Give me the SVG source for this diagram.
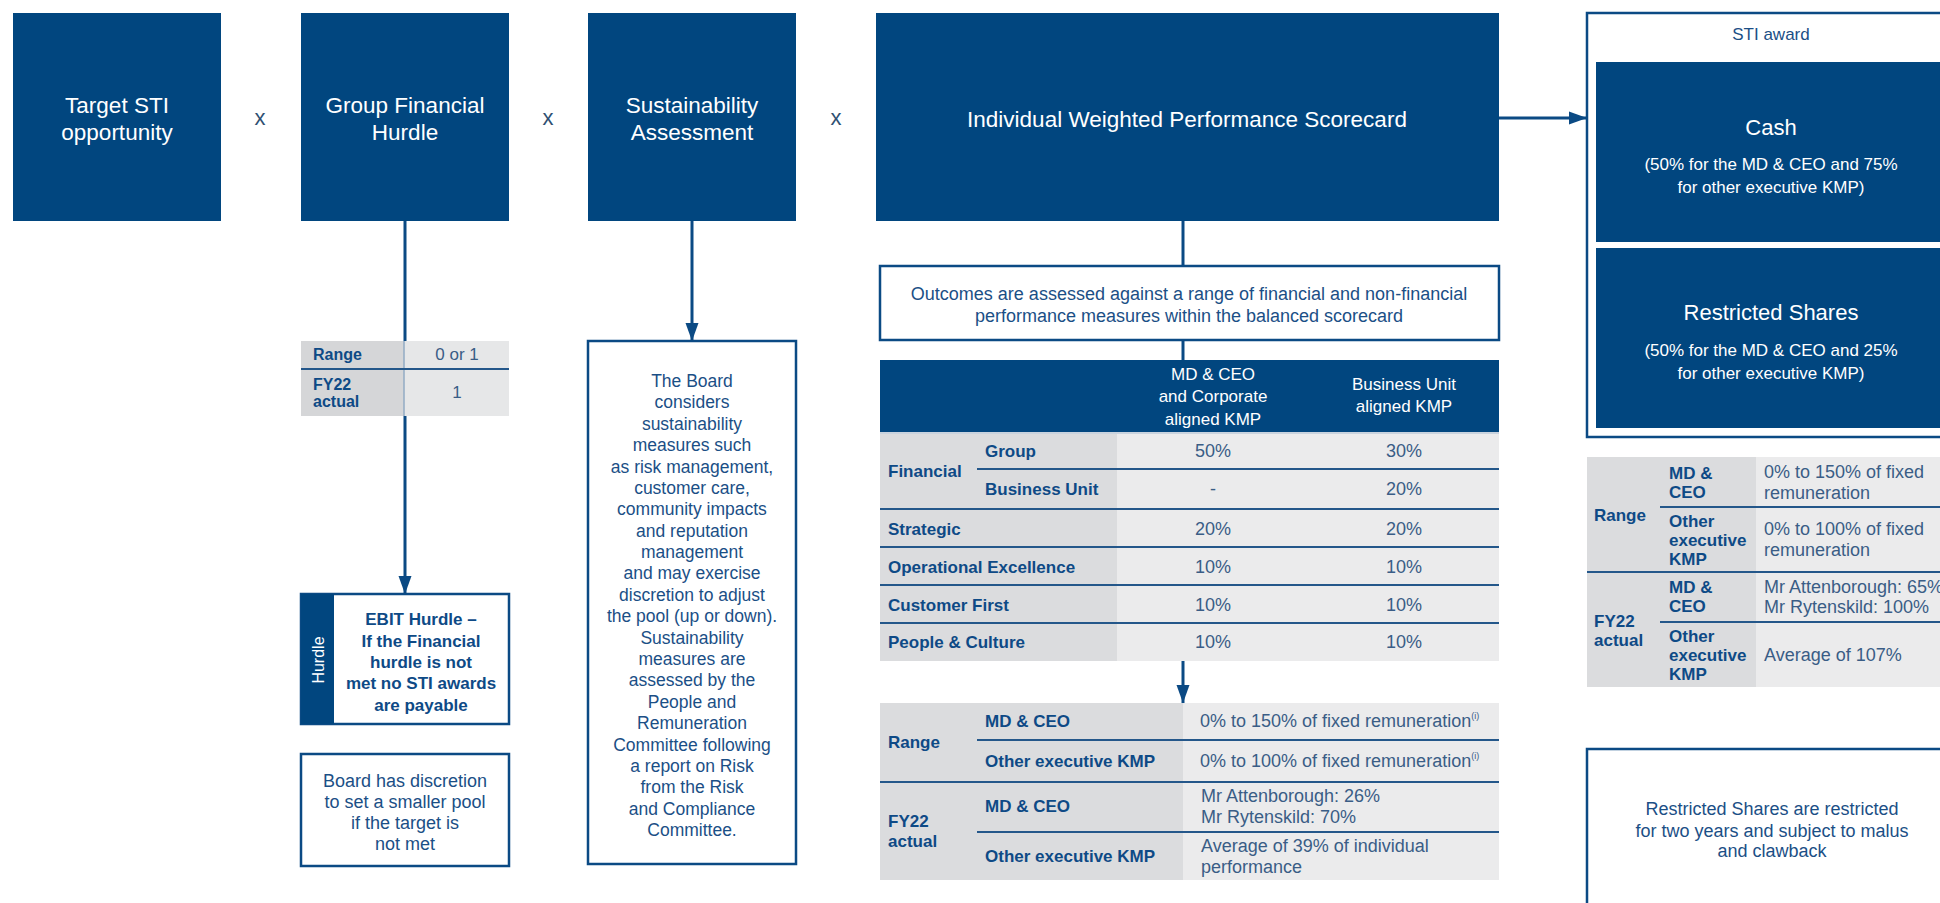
<svg xmlns="http://www.w3.org/2000/svg" width="1940" height="903" viewBox="0 0 1940 903">
  <style>
    text { font-family: "Liberation Sans", Arial, sans-serif; }
    .navy { fill: #01467f; }
    .title { fill: #ffffff; font-size: 22.5px; text-anchor: middle; }
    .sub { fill: #ffffff; font-size: 17px; text-anchor: middle; }
    .times { fill: #2f4f72; font-size: 22px; text-anchor: middle; }
    .outline { fill: #ffffff; stroke: #0b4a84; stroke-width: 2.5; }
    .body { fill: #1b4f86; font-size: 18px; text-anchor: middle; }
    .note { fill: #1b4f86; font-size: 17.5px; text-anchor: middle; }
    .strong { fill: #0e4a86; font-size: 17px; font-weight: bold; text-anchor: middle; }
    .lbl { fill: #0e4a86; font-size: 17px; font-weight: bold; }
    .lbl-s { fill: #0e4a86; font-size: 16px; font-weight: bold; }
    .val { fill: #3a5d86; font-size: 18px; }
    .valc { fill: #3a5d86; font-size: 18px; text-anchor: middle; }
    .valc-s { fill: #3a5d86; font-size: 17px; text-anchor: middle; }
    .hdr { fill: #ffffff; font-size: 17px; text-anchor: middle; }
    .cellA { fill: #dbdcde; }
    .cellB { fill: #ebebec; }
    .rule { stroke: #24578a; stroke-width: 2; }
    .conn { stroke: #0b4a84; stroke-width: 3; fill: none; }
  </style>
  <defs>
    <marker id="arrow" viewBox="0 0 18 14" refX="18" refY="7" markerWidth="18" markerHeight="14" markerUnits="userSpaceOnUse" orient="auto">
      <path d="M0,0.5 L18,7 L0,13.5 z" fill="#0b4a84"/>
    </marker>
  </defs>

  <rect x="0" y="0" width="1940" height="903" fill="#ffffff"/>

  <!-- connectors -->
  <g id="connectors">
    <line class="conn" x1="405" y1="221" x2="405" y2="594" marker-end="url(#arrow)"/>
    <line class="conn" x1="692" y1="221" x2="692" y2="341" marker-end="url(#arrow)"/>
    <line class="conn" x1="1183" y1="221" x2="1183" y2="266"/>
    <line class="conn" x1="1183" y1="340" x2="1183" y2="360"/>
    <line class="conn" x1="1183" y1="661" x2="1183" y2="703" marker-end="url(#arrow)"/>
    <line class="conn" x1="1499" y1="118" x2="1587" y2="118" marker-end="url(#arrow)"/>
  </g>

  <!-- multiplication signs between the factors -->
  <g id="operators">
    <text class="times" x="260" y="125">x</text>
    <text class="times" x="548" y="125">x</text>
    <text class="times" x="836" y="125">x</text>
  </g>

  <g id="target-sti">
    <rect class="navy" x="13" y="13" width="208" height="208"/>
    <text class="title" x="117" y="113">Target STI</text>
    <text class="title" x="117" y="140">opportunity</text>
  </g>

  <g id="group-financial-hurdle">
    <rect class="navy" x="301" y="13" width="208" height="208"/>
    <text class="title" x="405" y="113">Group Financial</text>
    <text class="title" x="405" y="140">Hurdle</text>
  </g>

  <g id="sustainability-assessment">
    <rect class="navy" x="588" y="13" width="208" height="208"/>
    <text class="title" x="692" y="113">Sustainability</text>
    <text class="title" x="692" y="140">Assessment</text>
  </g>

  <g id="scorecard">
    <rect class="navy" x="876" y="13" width="623" height="208"/>
    <text class="title" x="1187" y="127">Individual Weighted Performance Scorecard</text>
  </g>

  <!-- hurdle range table -->
  <g id="hurdle-range">
    <rect x="301" y="341" width="103" height="75" fill="#d5d6d8"/>
    <rect x="404" y="341" width="105" height="75" fill="#e6e7e8"/>
    <line x1="404" y1="341" x2="404" y2="416" stroke="#92abc5" stroke-width="1.5"/>
    <line class="rule" x1="301" y1="369" x2="509" y2="369"/>
    <text class="lbl-s" x="313" y="360">Range</text>
    <text class="valc-s" x="457" y="360">0 or 1</text>
    <text class="lbl-s" x="313" y="390">FY22</text>
    <text class="lbl-s" x="313" y="407">actual</text>
    <text class="valc-s" x="457" y="398">1</text>
  </g>

  <g id="ebit-hurdle">
    <rect class="outline" x="301" y="594" width="208" height="130"/>
    <rect class="navy" x="301" y="594" width="33" height="130"/>
    <text x="318" y="660" fill="#ffffff" font-size="16" text-anchor="middle" transform="rotate(-90 318 660)" dy="5.5">Hurdle</text>
    <text class="strong" x="421" y="625">EBIT Hurdle –</text>
    <text class="strong" x="421" y="647">If the Financial</text>
    <text class="strong" x="421" y="668">hurdle is not</text>
    <text class="strong" x="421" y="689">met no STI awards</text>
    <text class="strong" x="421" y="711">are payable</text>
  </g>

  <g id="board-discretion">
    <rect class="outline" x="301" y="754" width="208" height="112"/>
    <text class="body" x="405" y="787">Board has discretion</text>
    <text class="body" x="405" y="808">to set a smaller pool</text>
    <text class="body" x="405" y="829">if the target is</text>
    <text class="body" x="405" y="850">not met</text>
  </g>

  <g id="sustainability-detail">
    <rect class="outline" x="588" y="341" width="208" height="523"/>
    <text class="note" x="692" y="387">The Board</text>
    <text class="note" x="692" y="408.4">considers</text>
    <text class="note" x="692" y="429.8">sustainability</text>
    <text class="note" x="692" y="451.1">measures such</text>
    <text class="note" x="692" y="472.5">as risk management,</text>
    <text class="note" x="692" y="493.9">customer care,</text>
    <text class="note" x="692" y="515.3">community impacts</text>
    <text class="note" x="692" y="536.7">and reputation</text>
    <text class="note" x="692" y="558">management</text>
    <text class="note" x="692" y="579.4">and may exercise</text>
    <text class="note" x="692" y="600.8">discretion to adjust</text>
    <text class="note" x="692" y="622.2">the pool (up or down).</text>
    <text class="note" x="692" y="643.6">Sustainability</text>
    <text class="note" x="692" y="665">measures are</text>
    <text class="note" x="692" y="686.3">assessed by the</text>
    <text class="note" x="692" y="707.7">People and</text>
    <text class="note" x="692" y="729.1">Remuneration</text>
    <text class="note" x="692" y="750.5">Committee following</text>
    <text class="note" x="692" y="771.9">a report on Risk</text>
    <text class="note" x="692" y="793.2">from the Risk</text>
    <text class="note" x="692" y="814.6">and Compliance</text>
    <text class="note" x="692" y="836">Committee.</text>
  </g>

  <g id="outcomes">
    <rect class="outline" x="880" y="266" width="619" height="74"/>
    <text class="body" x="1189" y="300">Outcomes are assessed against a range of financial and non-financial</text>
    <text class="body" x="1189" y="322">performance measures within the balanced scorecard</text>
  </g>

  <!-- weighting of scorecard measures -->
  <g id="weightings">
    <rect class="navy" x="880" y="360" width="619" height="72"/>
    <text class="hdr" x="1213" y="380">MD &amp; CEO</text>
    <text class="hdr" x="1213" y="402">and Corporate</text>
    <text class="hdr" x="1213" y="425">aligned KMP</text>
    <text class="hdr" x="1404" y="390">Business Unit</text>
    <text class="hdr" x="1404" y="412">aligned KMP</text>
    <rect class="cellA" x="880" y="432" width="237" height="229"/>
    <rect class="cellB" x="1117" y="432" width="382" height="229"/>
    <line x1="880" y1="433" x2="1499" y2="433" stroke="#c9d3de" stroke-width="2"/>
    <line class="rule" x1="977" y1="469" x2="1499" y2="469"/>
    <line class="rule" x1="880" y1="509" x2="1499" y2="509"/>
    <line class="rule" x1="880" y1="547" x2="1499" y2="547"/>
    <line class="rule" x1="880" y1="585" x2="1499" y2="585"/>
    <line class="rule" x1="880" y1="623" x2="1499" y2="623"/>
    <text class="lbl" x="888" y="477">Financial</text>
    <text class="lbl" x="985" y="457">Group</text>
    <text class="lbl" x="985" y="495">Business Unit</text>
    <text class="lbl" x="888" y="535">Strategic</text>
    <text class="lbl" x="888" y="573">Operational Excellence</text>
    <text class="lbl" x="888" y="611">Customer First</text>
    <text class="lbl" x="888" y="648">People &amp; Culture</text>
    <text class="valc" x="1213" y="457">50%</text>
    <text class="valc" x="1404" y="457">30%</text>
    <text class="valc" x="1213" y="495">-</text>
    <text class="valc" x="1404" y="495">20%</text>
    <text class="valc" x="1213" y="535">20%</text>
    <text class="valc" x="1404" y="535">20%</text>
    <text class="valc" x="1213" y="573">10%</text>
    <text class="valc" x="1404" y="573">10%</text>
    <text class="valc" x="1213" y="611">10%</text>
    <text class="valc" x="1404" y="611">10%</text>
    <text class="valc" x="1213" y="648">10%</text>
    <text class="valc" x="1404" y="648">10%</text>
  </g>

  <g id="scorecard-outcomes">
    <rect class="cellA" x="880" y="703" width="303" height="177"/>
    <rect class="cellB" x="1183" y="703" width="316" height="177"/>
    <line class="rule" x1="977" y1="740" x2="1499" y2="740"/>
    <line class="rule" x1="880" y1="782" x2="1499" y2="782"/>
    <line class="rule" x1="977" y1="832" x2="1499" y2="832"/>
    <text class="lbl" x="888" y="748">Range</text>
    <text class="lbl" x="985" y="727">MD &amp; CEO</text>
    <text class="lbl" x="985" y="767">Other executive KMP</text>
    <text class="lbl" x="888" y="827">FY22</text>
    <text class="lbl" x="888" y="847">actual</text>
    <text class="lbl" x="985" y="812">MD &amp; CEO</text>
    <text class="lbl" x="985" y="862">Other executive KMP</text>
    <text class="val" x="1200" y="727">0% to 150% of fixed remuneration<tspan style="font-size:9px" dy="-8">(i)</tspan></text>
    <text class="val" x="1200" y="767">0% to 100% of fixed remuneration<tspan style="font-size:9px" dy="-8">(i)</tspan></text>
    <text class="val" x="1201" y="802">Mr Attenborough: 26%</text>
    <text class="val" x="1201" y="823">Mr Rytenskild: 70%</text>
    <text class="val" x="1201" y="852">Average of 39% of individual</text>
    <text class="val" x="1201" y="873">performance</text>
  </g>

  <g id="sti-award">
    <rect class="outline" x="1587" y="13" width="368" height="424"/>
    <text class="note" x="1771" y="40" style="font-size:17px">STI award</text>
    <rect class="navy" x="1596" y="62" width="350" height="180"/>
    <text class="title" x="1771" y="135" style="font-size:22px">Cash</text>
    <text class="sub" x="1771" y="170">(50% for the MD &amp; CEO and 75%</text>
    <text class="sub" x="1771" y="193">for other executive KMP)</text>
    <rect class="navy" x="1596" y="248" width="350" height="180"/>
    <text class="title" x="1771" y="320" style="font-size:22px">Restricted Shares</text>
    <text class="sub" x="1771" y="356">(50% for the MD &amp; CEO and 25%</text>
    <text class="sub" x="1771" y="379">for other executive KMP)</text>
  </g>

  <g id="award-outcomes">
    <rect class="cellA" x="1587" y="457" width="169" height="230"/>
    <rect class="cellB" x="1756" y="457" width="200" height="230"/>
    <line class="rule" x1="1660" y1="507" x2="1956" y2="507"/>
    <line class="rule" x1="1587" y1="572" x2="1956" y2="572"/>
    <line class="rule" x1="1660" y1="622" x2="1956" y2="622"/>
    <text class="lbl" x="1594" y="521">Range</text>
    <text class="lbl" x="1669" y="479">MD &amp;</text>
    <text class="lbl" x="1669" y="498">CEO</text>
    <text class="lbl" x="1669" y="527">Other</text>
    <text class="lbl" x="1669" y="546">executive</text>
    <text class="lbl" x="1669" y="565">KMP</text>
    <text class="val" x="1764" y="478">0% to 150% of fixed</text>
    <text class="val" x="1764" y="499">remuneration</text>
    <text class="val" x="1764" y="535">0% to 100% of fixed</text>
    <text class="val" x="1764" y="556">remuneration</text>
    <text class="lbl" x="1594" y="627">FY22</text>
    <text class="lbl" x="1594" y="646">actual</text>
    <text class="lbl" x="1669" y="593">MD &amp;</text>
    <text class="lbl" x="1669" y="612">CEO</text>
    <text class="val" x="1764" y="593">Mr Attenborough: 65%</text>
    <text class="val" x="1764" y="613">Mr Rytenskild: 100%</text>
    <text class="lbl" x="1669" y="642">Other</text>
    <text class="lbl" x="1669" y="661">executive</text>
    <text class="lbl" x="1669" y="680">KMP</text>
    <text class="val" x="1764" y="661">Average of 107%</text>
  </g>

  <g id="restriction-note">
    <rect class="outline" x="1587" y="749" width="380" height="200"/>
    <text class="body" x="1772" y="815">Restricted Shares are restricted</text>
    <text class="body" x="1772" y="837">for two years and subject to malus</text>
    <text class="body" x="1772" y="857">and clawback</text>
  </g>
</svg>
